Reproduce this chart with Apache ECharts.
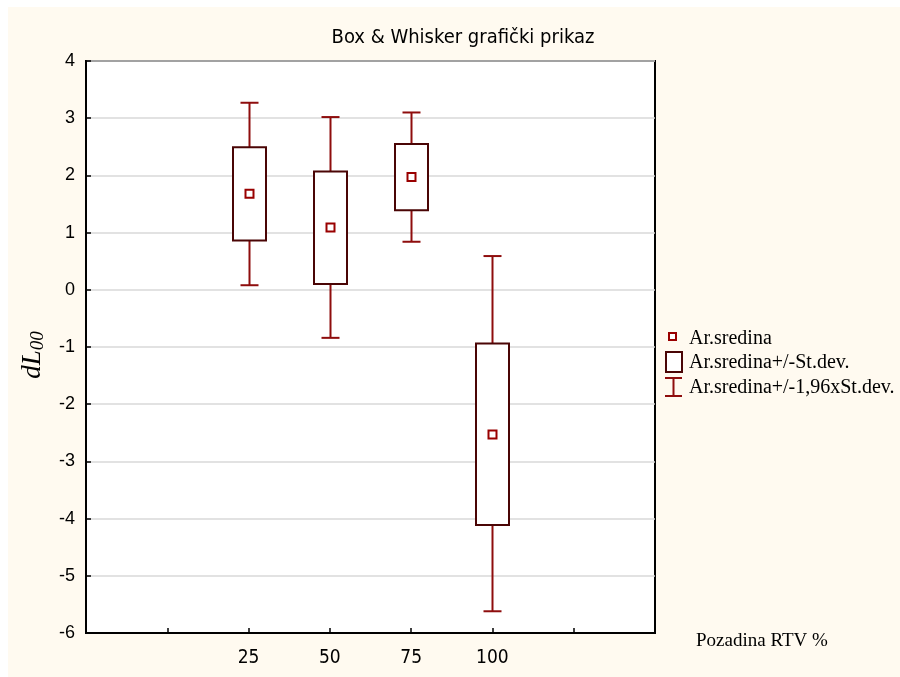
<!DOCTYPE html>
<html>
<head>
<meta charset="utf-8">
<script src="https://cdn.jsdelivr.net/npm/echarts@6/dist/echarts.min.js"></script>
<style>
html,body{margin:0;padding:0;background:#ffffff;}
#chart{position:absolute;left:0;top:0;width:900px;height:677px;}
</style>
</head>
<body>
<div id="chart"></div>
<script>
// ---- data ----
const xCategories = [25, 50, 75, 100];          // Pozadina RTV %
const means      = [1.68, 1.09, 1.97, -2.53];   // Ar.sredina
const sdLow      = [0.86, 0.10, 1.39, -4.11];   // Ar.sredina - St.dev.
const sdHigh     = [2.49, 2.07, 2.55, -0.94];   // Ar.sredina + St.dev.
const ciLow      = [0.08, -0.84, 0.84, -5.62];  // Ar.sredina - 1,96xSt.dev.
const ciHigh     = [3.27, 3.02, 3.10, 0.59];    // Ar.sredina + 1,96xSt.dev.
const yTicks     = [-6, -5, -4, -3, -2, -1, 0, 1, 2, 3, 4];
const legendNames = ['Ar.sredina', 'Ar.sredina+/-St.dev.', 'Ar.sredina+/-1,96xSt.dev.'];

const seriesData = xCategories.map((c, i) => [c, means[i], sdLow[i], sdHigh[i], ciLow[i], ciHigh[i]]);

const BOX_COLOR = '#4a0505';
const WHISK_COLOR = '#8e0d0d';
const MEAN_COLOR = '#990000';
const NARROW = '"Liberation Sans Narrow","Arial Narrow","DejaVu Sans Condensed",Arial,sans-serif';
const SERIF = '"Liberation Serif","Times New Roman",serif';

const chart = echarts.init(document.getElementById('chart'), null, {renderer: 'canvas'});

const option = {
  animation: false,
  backgroundColor: '#ffffff',
  title: {
    text: 'Box & Whisker grafički prikaz',
    left: 458, top: 23, textAlign: 'center',
    textStyle: {fontFamily: NARROW, fontSize: 20, fontWeight: 'normal', color: '#000'}
  },
  grid: {left: 86, top: 61, right: 245, bottom: 44, show: true, backgroundColor: '#ffffff', borderColor: '#000', borderWidth: 2},
  xAxis: {
    type: 'value', min: -25, max: 150, interval: 25,
    axisLine: {show: true, onZero: false, lineStyle: {color: '#000', width: 2}},
    axisTick: {show: true, inside: true, length: 5, lineStyle: {color: '#000', width: 1.5}},
    axisLabel: {
      margin: 16, color: '#000', fontFamily: NARROW, fontSize: 19,
      formatter: v => xCategories.indexOf(v) >= 0 ? String(v) : ''
    },
    splitLine: {show: false}
  },
  yAxis: {
    type: 'value', min: yTicks[0], max: yTicks[yTicks.length - 1], interval: 1,
    name: '{a|dL}{b|00}', nameLocation: 'middle', nameGap: 39, nameRotate: 90,
    nameTextStyle: {
      padding: [0, 16, 0, 0],
      rich: {
        a: {fontFamily: SERIF, fontStyle: 'italic', fontSize: 27, color: '#000'},
        b: {fontFamily: SERIF, fontStyle: 'italic', fontSize: 19, color: '#000', padding: [10, 0, 0, 0]}
      }
    },
    axisLine: {show: true, onZero: false, lineStyle: {color: '#000', width: 2}},
    axisTick: {show: true, inside: true, length: 5, lineStyle: {color: '#000', width: 1.5}},
    axisLabel: {margin: 11, color: '#000', fontFamily: '"Liberation Sans", Arial, sans-serif', fontSize: 18,
      formatter: v => yTicks.indexOf(v) >= 0 ? String(v) : ''},
    splitLine: {show: true, lineStyle: {color: '#d9d9d9', width: 1.5}}
  },
  series: [{
    type: 'custom',
    data: seriesData,
    clip: false,
    renderItem: function (params, api) {
      const x = api.value(0);
      const pMean = api.coord([x, api.value(1)]);
      const pLo = api.coord([x, api.value(2)]);
      const pHi = api.coord([x, api.value(3)]);
      const pWl = api.coord([x, api.value(4)]);
      const pWh = api.coord([x, api.value(5)]);
      const cx = Math.round(pMean[0]) + 0.5;
      const bw = 33, cw = 18, ms = 8;
      const wStyle = {stroke: WHISK_COLOR, lineWidth: 2};
      return {
        type: 'group',
        children: [
          {type: 'line', shape: {x1: cx, y1: pWh[1], x2: cx, y2: pHi[1]}, style: wStyle},
          {type: 'line', shape: {x1: cx, y1: pLo[1], x2: cx, y2: pWl[1]}, style: wStyle},
          {type: 'line', shape: {x1: cx - cw / 2, y1: pWh[1], x2: cx + cw / 2, y2: pWh[1]}, style: wStyle},
          {type: 'line', shape: {x1: cx - cw / 2, y1: pWl[1], x2: cx + cw / 2, y2: pWl[1]}, style: wStyle},
          {type: 'rect', shape: {x: cx - bw / 2, y: pHi[1], width: bw, height: pLo[1] - pHi[1]},
            style: {fill: '#ffffff', stroke: BOX_COLOR, lineWidth: 2}},
          {type: 'rect', shape: {x: cx - ms / 2, y: pMean[1] - ms / 2, width: ms, height: ms},
            style: {fill: '#ffffff', stroke: MEAN_COLOR, lineWidth: 2}}
        ]
      };
    }
  }],
  graphic: [
    {type: 'rect', z: -10, silent: true, shape: {x: 8, y: 7, width: 892, height: 670}, style: {fill: '#fffaf0'}},
    // legend
    {type: 'rect', shape: {x: 669, y: 333, width: 7, height: 7}, style: {fill: '#fff', stroke: MEAN_COLOR, lineWidth: 2}},
    {type: 'text', left: 689, top: 329, style: {text: legendNames[0], font: '20px ' + SERIF, fill: '#000'}},
    {type: 'rect', shape: {x: 666, y: 352, width: 16, height: 20}, style: {fill: '#fff', stroke: BOX_COLOR, lineWidth: 2}},
    {type: 'text', left: 689, top: 353, style: {text: legendNames[1], font: '20px ' + SERIF, fill: '#000'}},
    {type: 'line', shape: {x1: 673.5, y1: 378, x2: 673.5, y2: 396}, style: {stroke: WHISK_COLOR, lineWidth: 2}},
    {type: 'line', shape: {x1: 665, y1: 378, x2: 682, y2: 378}, style: {stroke: WHISK_COLOR, lineWidth: 2}},
    {type: 'line', shape: {x1: 665, y1: 396, x2: 682, y2: 396}, style: {stroke: WHISK_COLOR, lineWidth: 2}},
    {type: 'text', left: 689, top: 378, style: {text: legendNames[2], font: '20px ' + SERIF, fill: '#000'}},
    // x axis name
    {type: 'text', left: 696, top: 632, style: {text: 'Pozadina RTV %', font: '19px ' + SERIF, fill: '#000'}}
  ]
};
chart.setOption(option);
</script>
</body>
</html>
